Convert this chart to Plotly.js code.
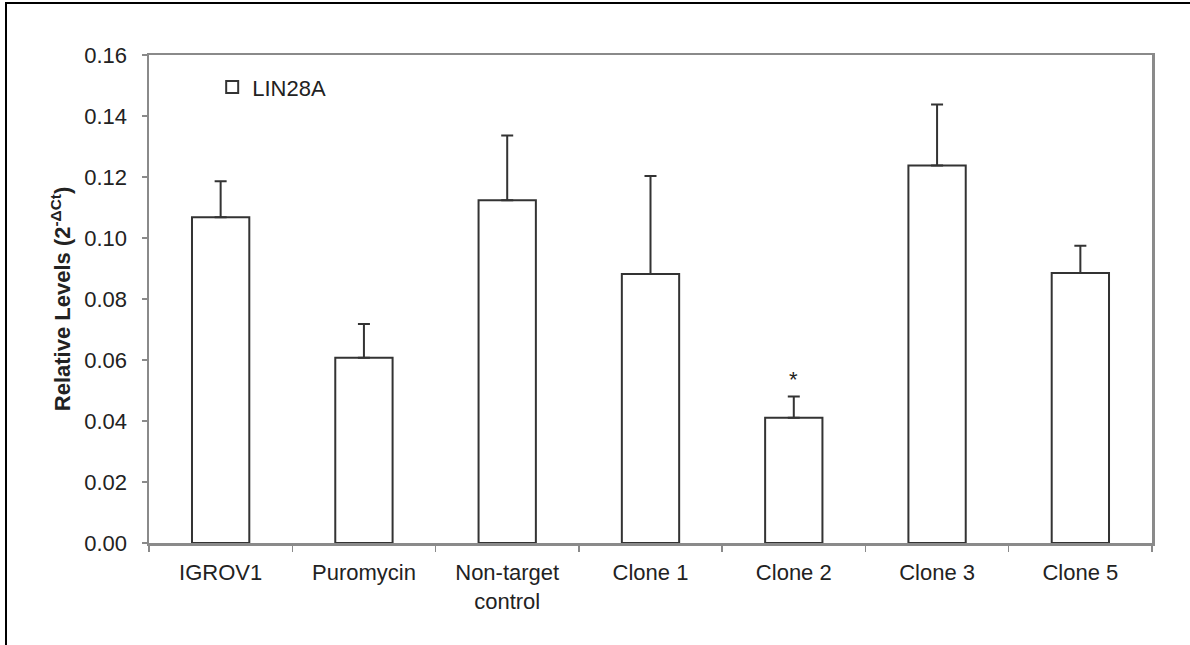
<!DOCTYPE html>
<html>
<head>
<meta charset="utf-8">
<script src="https://cdn.plot.ly/plotly-3.0.1.min.js"></script>
<style>
  html, body { margin: 0; padding: 0; background: #fff; }
  #wrap { position: relative; width: 1190px; height: 645px; overflow: hidden; }
  #frame { position: absolute; left: 5px; top: 2px; right: -10px; bottom: -10px;
           border-left: 2px solid #000; border-top: 2px solid #000; pointer-events: none; }
  #chart { position: absolute; left: 0; top: 0; width: 1190px; height: 645px; }
</style>
</head>
<body>
<div id="wrap">
  <div id="chart"></div>
  <div id="frame"></div>
</div>
<script>
// LIN28A expression per cell line (2^-ΔCt) with upper error bars
const categories = ['IGROV1', 'Puromycin', 'Non-target<br>control', 'Clone 1', 'Clone 2', 'Clone 3', 'Clone 5'];
const levels = [0.1068, 0.0607, 0.1124, 0.0882, 0.0411, 0.1238, 0.0885];
const errUpper = [0.0118, 0.0111, 0.0212, 0.0321, 0.0069, 0.0200, 0.0090];
const yTicks = [0, 0.02, 0.04, 0.06, 0.08, 0.10, 0.12, 0.14, 0.16];
const significant = ['Clone 2'];

const axisGrey = '#8a8a8a';
const inkColor = '#333333';
const fontFamily = 'Liberation Sans, Arial, sans-serif';

const bars = {
  type: 'bar',
  name: 'LIN28A',
  x: categories,
  y: levels,
  width: 0.4,
  marker: { color: '#ffffff', line: { color: inkColor, width: 2 } },
  error_y: { type: 'data', symmetric: false, array: errUpper, arrayminus: levels.map(() => 0),
             color: inkColor, thickness: 2, width: 6 },
  hoverinfo: 'x+y'
};

// significance marker above the error bar cap
const stars = significant.map(c => {
  const i = categories.indexOf(c);
  return { x: c, y: levels[i] + errUpper[i], yshift: 17, text: '*', showarrow: false,
           font: { family: fontFamily, size: 22, color: '#222' } };
});

const layout = {
  width: 1190, height: 645,
  margin: { l: 149, r: 38, t: 55, b: 101.5 },
  paper_bgcolor: '#ffffff', plot_bgcolor: '#ffffff',
  font: { family: fontFamily, size: 22, color: '#222' },
  showlegend: true,
  legend: { x: 0.063, y: 0.934, xanchor: 'left', yanchor: 'middle', bgcolor: 'rgba(0,0,0,0)',
            font: { size: 22, color: '#222' }, itemwidth: 30 },
  xaxis: {
    type: 'category',
    showline: true, linecolor: axisGrey, linewidth: 2.5, mirror: true,
    ticks: 'outside', ticklen: 6, tickcolor: axisGrey, tickwidth: 1.5,
    tickson: 'boundaries', showgrid: false, zeroline: false,
    ticklabelstandoff: 8,
    tickfont: { size: 22, color: '#222' }
  },
  yaxis: {
    range: [0, 0.16], tickvals: yTicks, ticktext: yTicks.map(v => v.toFixed(2)),
    showline: true, linecolor: axisGrey, linewidth: 2.5, mirror: true,
    ticks: 'outside', ticklen: 5, tickcolor: axisGrey, tickwidth: 1.5,
    showgrid: false, zeroline: false,
    ticklabelstandoff: 10,
    tickfont: { size: 22, color: '#222' },
    title: { text: '<b>Relative Levels (2<sup>-ΔCt</sup>)</b>', standoff: 8,
             font: { size: 22, color: '#222' } }
  },
  annotations: stars
};

Plotly.newPlot('chart', [bars], layout, { displayModeBar: false, staticPlot: true });
</script>
</body>
</html>
